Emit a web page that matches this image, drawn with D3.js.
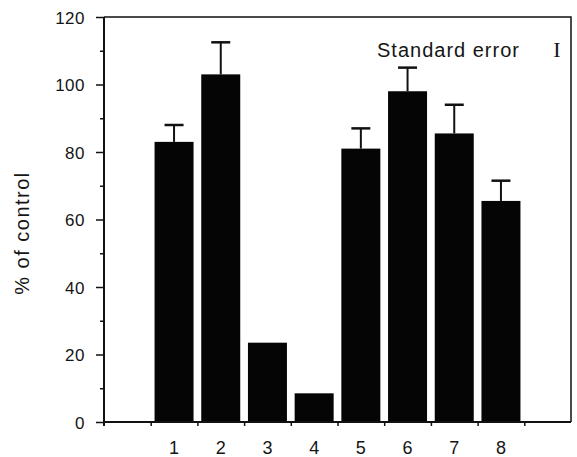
<!DOCTYPE html>
<html>
<head>
<meta charset="utf-8">
<script src="https://cdn.jsdelivr.net/npm/d3@7"></script>
<style>
body { margin: 0; background: #fff; }
text { font-family: "Liberation Sans", Arial, sans-serif; fill: #151515; }
</style>
</head>
<body>
<script>
var categories = ["1", "2", "3", "4", "5", "6", "7", "8"]
var means = [83, 103, 23.5, 8.5, 81, 98, 85.5, 65.5]
var stdErr = [5, 9.5, 0, 0, 6, 7, 8.5, 6]
var yTicks = [0, 20, 40, 60, 80, 100, 120]

var plotL = 104, plotT = 17, plotR = 571, plotB = 422

var svg = d3.select("body").append("svg")
	.attr("width", 577)
	.attr("height", 457)

// one empty slot each side of the bars
var slots = ["L"].concat(categories).concat(["R"])
var x = d3.scaleBand().domain(slots).range([plotL, plotR])
	.paddingInner(0.165).paddingOuter(0.0825)
var y = d3.scaleLinear().domain([0, 120]).range([plotB, plotT])

var data = categories.map(function(c, i) { return {cat: c, mean: means[i], se: stdErr[i]} })

// bars
svg.selectAll("rect.bar").data(data).enter().append("rect")
	.attr("class", "bar")
	.attr("x", function(d) { return x(d.cat) })
	.attr("y", function(d) { return y(d.mean) })
	.attr("width", x.bandwidth())
	.attr("height", function(d) { return y(0) - y(d.mean) })
	.attr("fill", "#050505")

// error bars
var eb = data.filter(function(d) { return d.se > 0 })
svg.selectAll("line.err").data(eb).enter().append("line")
	.attr("x1", function(d) { return x(d.cat) + x.bandwidth() / 2 })
	.attr("x2", function(d) { return x(d.cat) + x.bandwidth() / 2 })
	.attr("y1", function(d) { return y(d.mean) })
	.attr("y2", function(d) { return y(d.mean + d.se) })
	.attr("stroke", "#111").attr("stroke-width", 2)
svg.selectAll("line.cap").data(eb).enter().append("line")
	.attr("x1", function(d) { return x(d.cat) + x.bandwidth() / 2 - 9.5 })
	.attr("x2", function(d) { return x(d.cat) + x.bandwidth() / 2 + 9.5 })
	.attr("y1", function(d) { return y(d.mean + d.se) })
	.attr("y2", function(d) { return y(d.mean + d.se) })
	.attr("stroke", "#111").attr("stroke-width", 2.5)

// frame
svg.append("path")
	.attr("d", "M" + plotL + "," + plotT + "H" + plotR + "V" + plotB)
	.attr("fill", "none").attr("stroke", "#111").attr("stroke-width", 1.5)

// y axis with minor ticks
var yAxis = svg.append("g").attr("transform", "translate(" + plotL + ",0)")
	.call(d3.axisLeft(y).tickValues(d3.range(0, 121, 10)).tickSize(8).tickPadding(11)
		.tickFormat(function(d) { return yTicks.indexOf(d) >= 0 ? d : "" }))
yAxis.select(".domain").attr("stroke", "#111").attr("stroke-width", 2)
	.attr("d", "M0," + (plotB + 4) + "V" + plotT)
yAxis.selectAll(".tick line").attr("stroke", "#111").attr("stroke-width", 1.5)
	.attr("x2", function(d) { return d % 20 == 0 ? -8 : -4 })
yAxis.selectAll(".tick text").style("font-size", "17px").style("letter-spacing", "0.5px").attr("dy", "0.36em")

// x axis: ticks at slot boundaries
var bounds = slots.map(function(s) { return x(s) - x.step() * x.paddingInner() / 2 }).concat([plotR])
var xb = d3.scaleLinear().domain([0, bounds.length - 1]).range([bounds[0], bounds[bounds.length - 1]])
var xAxis = svg.append("g").attr("transform", "translate(0," + plotB + ")")
	.call(d3.axisBottom(xb).tickValues(d3.range(1, bounds.length - 1)).tickSize(4).tickFormat(""))
xAxis.select(".domain").attr("stroke", "#111").attr("stroke-width", 2)
	.attr("d", "M" + plotL + ",0H" + plotR)
xAxis.selectAll(".tick line").attr("stroke", "#111").attr("stroke-width", 1.5)

// category labels
svg.selectAll("text.cat").data(data).enter().append("text")
	.attr("x", function(d) { return x(d.cat) + x.bandwidth() / 2 })
	.attr("y", 454)
	.attr("text-anchor", "middle")
	.style("font-size", "18px")
	.text(function(d) { return d.cat })

// y label
svg.append("text")
	.attr("transform", "translate(29,233) rotate(-90)")
	.attr("text-anchor", "middle")
	.style("font-size", "20px")
	.style("letter-spacing", "1.5px")
	.text("% of control")

// legend
svg.append("text")
	.attr("x", 377).attr("y", 57)
	.style("font-size", "20px")
	.style("letter-spacing", "1px")
	.text("Standard error")
svg.append("text")
	.attr("x", 557).attr("y", 57)
	.attr("text-anchor", "middle")
	.style("font-family", "Liberation Serif, serif")
	.style("font-size", "22px")
	.text("I")
</script>
</body>
</html>
